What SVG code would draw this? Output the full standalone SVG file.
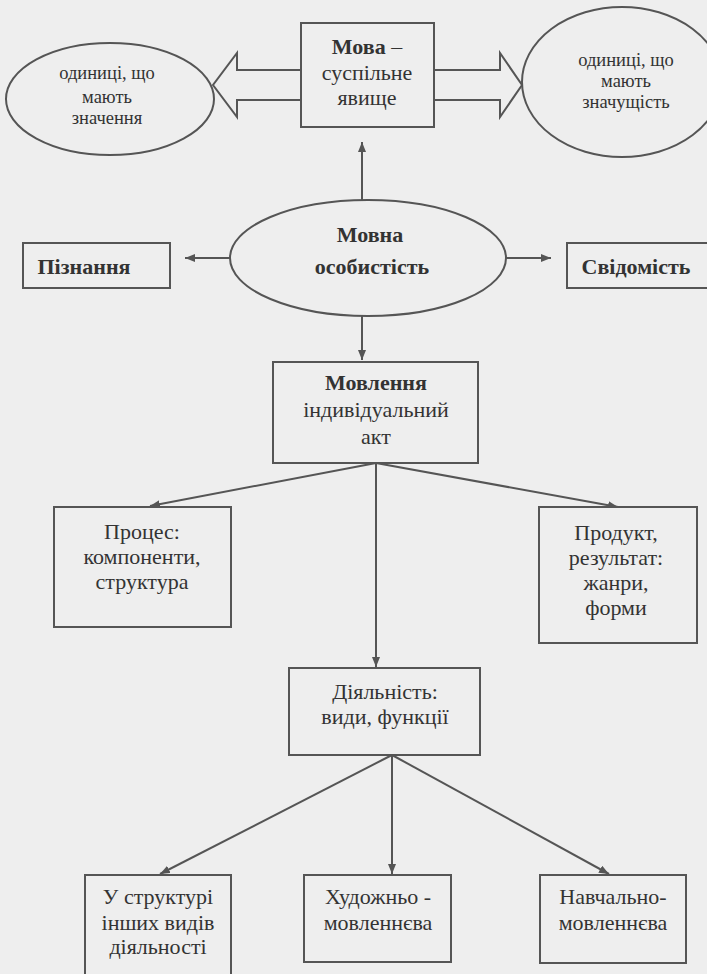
<svg xmlns="http://www.w3.org/2000/svg" width="707" height="974" viewBox="0 0 707 974">
<defs>
<style>
.bg{fill:#eeeeee}
.shape{fill:#eeeeee;stroke:#555;stroke-width:2}
.ln{fill:none;stroke:#555;stroke-width:2}
.t{font-family:"Liberation Serif","Times New Roman",serif;font-size:22px;fill:#333;text-anchor:middle}
.s{font-size:18.5px}
.b{font-weight:bold}
</style>
<marker id="ah" viewBox="0 0 10 8" refX="10" refY="4" markerWidth="10" markerHeight="8" markerUnits="userSpaceOnUse" orient="auto">
<path d="M0,0 L10,4 L0,8 Z" fill="#555"/>
</marker>
</defs>
<rect class="bg" x="0" y="0" width="707" height="974"/>
<g id="connectors">
<polyline class="shape" points="301,70 237,70 237,53 213,85 237,117 237,100 301,100"/>
<polyline class="shape" points="434,70 500,70 500,53 522,85 500,117 500,100 434,100"/>
<line class="ln" x1="362" y1="200" x2="362" y2="142" marker-end="url(#ah)"/>
<line class="ln" x1="231" y1="258" x2="185" y2="258" marker-end="url(#ah)"/>
<line class="ln" x1="506" y1="258" x2="551" y2="258" marker-end="url(#ah)"/>
<line class="ln" x1="362" y1="316" x2="362" y2="360" marker-end="url(#ah)"/>
<line class="ln" x1="376" y1="463" x2="150" y2="506" marker-end="url(#ah)"/>
<line class="ln" x1="376" y1="463" x2="376" y2="667" marker-end="url(#ah)"/>
<line class="ln" x1="376" y1="463" x2="618" y2="507" marker-end="url(#ah)"/>
<line class="ln" x1="392" y1="755" x2="160" y2="874" marker-end="url(#ah)"/>
<line class="ln" x1="392" y1="755" x2="392" y2="874" marker-end="url(#ah)"/>
<line class="ln" x1="392" y1="755" x2="609" y2="874" marker-end="url(#ah)"/>
</g>
<g id="mova">
<rect class="shape" x="301" y="23" width="133" height="104"/>
<text class="t" x="367" y="54"><tspan class="b">Мова</tspan> –</text>
<text class="t" x="367" y="80">суспільне</text>
<text class="t" x="367" y="105">явище</text>
</g>
<g id="znachennia">
<ellipse class="shape" cx="110" cy="99" rx="104" ry="56"/>
<text class="t s" x="107" y="79">одиниці, що</text>
<text class="t s" x="107" y="103">мають</text>
<text class="t s" x="107" y="124">значення</text>
</g>
<g id="znachushchist">
<ellipse class="shape" cx="622" cy="82" rx="100" ry="75"/>
<text class="t s" x="626" y="66">одиниці, що</text>
<text class="t s" x="626" y="87">мають</text>
<text class="t s" x="626" y="108">значущість</text>
</g>
<g id="osobystist">
<ellipse class="shape" cx="368" cy="258" rx="138" ry="58"/>
<text class="t b" x="370" y="242">Мовна</text>
<text class="t b" x="372" y="274">особистість</text>
</g>
<g id="piznannia">
<rect class="shape" x="23" y="243" width="147" height="45"/>
<text class="t b" x="84" y="274">Пізнання</text>
</g>
<g id="svidomist">
<rect class="shape" x="567" y="243" width="150" height="45"/>
<text class="t b" x="636" y="274">Свідомість</text>
</g>
<g id="movlennia">
<rect class="shape" x="273" y="362" width="205" height="101"/>
<text class="t b" x="376" y="390">Мовлення</text>
<text class="t" x="376" y="417">індивідуальний</text>
<text class="t" x="376" y="444">акт</text>
</g>
<g id="protses">
<rect class="shape" x="54" y="507" width="177" height="120"/>
<text class="t" x="142" y="539">Процес:</text>
<text class="t" x="142" y="564">компоненти,</text>
<text class="t" x="142" y="589">структура</text>
</g>
<g id="produkt">
<rect class="shape" x="539" y="507" width="158" height="136"/>
<text class="t" x="616" y="540">Продукт,</text>
<text class="t" x="616" y="565">результат:</text>
<text class="t" x="616" y="590">жанри,</text>
<text class="t" x="616" y="615">форми</text>
</g>
<g id="diialnist">
<rect class="shape" x="289" y="668" width="191" height="87"/>
<text class="t" x="385" y="699">Діяльність:</text>
<text class="t" x="385" y="724">види, функції</text>
</g>
<g id="inshi">
<rect class="shape" x="85" y="875" width="146" height="110"/>
<text class="t" x="158" y="904">У структурі</text>
<text class="t" x="158" y="930">інших видів</text>
<text class="t" x="158" y="954">діяльності</text>
</g>
<g id="khudozhno">
<rect class="shape" x="304" y="875" width="147" height="87"/>
<text class="t" x="378" y="904">Художньо -</text>
<text class="t" x="378" y="930">мовленнєва</text>
</g>
<g id="navchalno">
<rect class="shape" x="540" y="875" width="146" height="88"/>
<text class="t" x="613" y="904">Навчально-</text>
<text class="t" x="613" y="930">мовленнєва</text>
</g>
</svg>
